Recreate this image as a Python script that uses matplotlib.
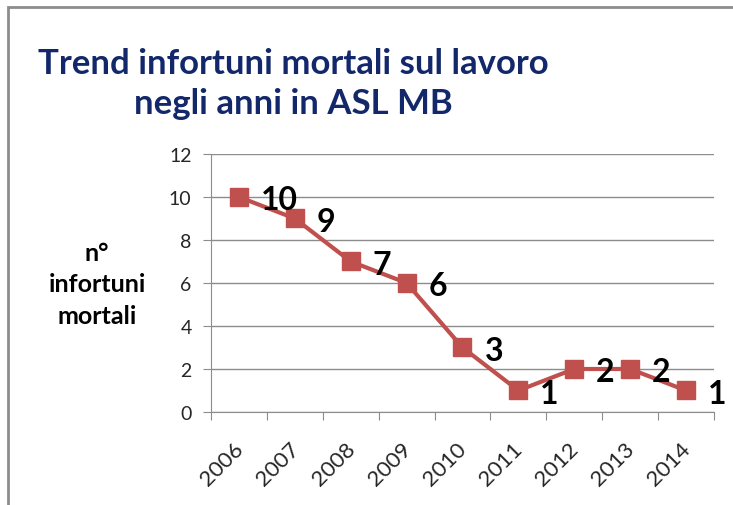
import numpy as np
import matplotlib.pyplot as plt
import matplotlib.transforms as mtransforms
from matplotlib.patches import Rectangle

# Data
years = ['2006', '2007', '2008', '2009', '2010', '2011', '2012', '2013', '2014']
deaths = [10, 9, 7, 6, 3, 1, 2, 2, 1]
yticks = [0, 2, 4, 6, 8, 10, 12]

title_lines = ['Trend infortuni mortali sul lavoro', 'negli anni in ASL MB']
ylabel = 'n°\ninfortuni\nmortali'

plt.rcParams['font.family'] = ['Lato', 'DejaVu Sans']

fig = plt.figure(figsize=(7.33, 5.06), dpi=100)
ax = fig.add_axes([0.2879, 0.1838, 0.974 - 0.2879, 0.6937 - 0.1838])

x = np.arange(len(years))
ax.plot(x, deaths, color='#C0504D', linewidth=3, marker='s', markersize=13,
        markerfacecolor='#C0504D', markeredgecolor='#C0504D', zorder=3)

for xi, v in zip(x, deaths):
    ax.annotate(str(v), (xi, v), xytext=(22, -3), textcoords='offset pixels',
                ha='left', va='center', fontsize=23, fontweight='bold',
                color='black', zorder=4)

ax.set_xlim(-0.5, len(years) - 0.5)
ax.set_ylim(0, 12)
ax.set_yticks(yticks)
ax.set_yticklabels([str(t) for t in yticks])
ax.yaxis.grid(True, color='#8c8c8c', linewidth=1)
ax.set_axisbelow(True)

# ticks between categories, labels at centers
ax.set_xticks(np.arange(-0.5, len(years), 1.0))
ax.set_xticklabels([])
ax.set_xticks(x, minor=True)
ax.set_xticklabels(years, minor=True, rotation=45, ha='right',
                   rotation_mode='anchor', fontsize=16, color='#262626')
ax.tick_params(axis='x', which='minor', length=0, pad=19)
ax.tick_params(axis='x', which='major', length=6, color='#8c8c8c', direction='out')
ax.tick_params(axis='y', length=6, color='#8c8c8c', direction='out',
               labelsize=14, labelcolor='#262626', pad=8)
shift = mtransforms.ScaledTranslation(-6 / 100, 0, fig.dpi_scale_trans)
for lab in ax.get_xticklabels(minor=True):
    lab.set_transform(lab.get_transform() + shift)

for s in ['top', 'right']:
    ax.spines[s].set_visible(False)
for s in ['left', 'bottom']:
    ax.spines[s].set_color('#8c8c8c')

# title and y label
fig.text(293 / 733, 1 - 64 / 506, title_lines[0], ha='center', va='center',
         fontsize=25, fontweight='bold', color='#13286B')
fig.text(293 / 733, 1 - 104 / 506, title_lines[1], ha='center', va='center',
         fontsize=25, fontweight='bold', color='#13286B')
fig.text(97 / 733, 1 - 285 / 506, ylabel, ha='center', va='center',
         fontsize=18, fontweight='bold', color='black', linespacing=1.45)

# frame around the chart area
fig.patches.append(Rectangle((8 / 733, -0.1), 1.2, 1 - 8 / 506 + 0.1,
                             transform=fig.transFigure, fill=False,
                             edgecolor='#8c8c8c', linewidth=2))

fig.savefig('out.png', dpi=100)
